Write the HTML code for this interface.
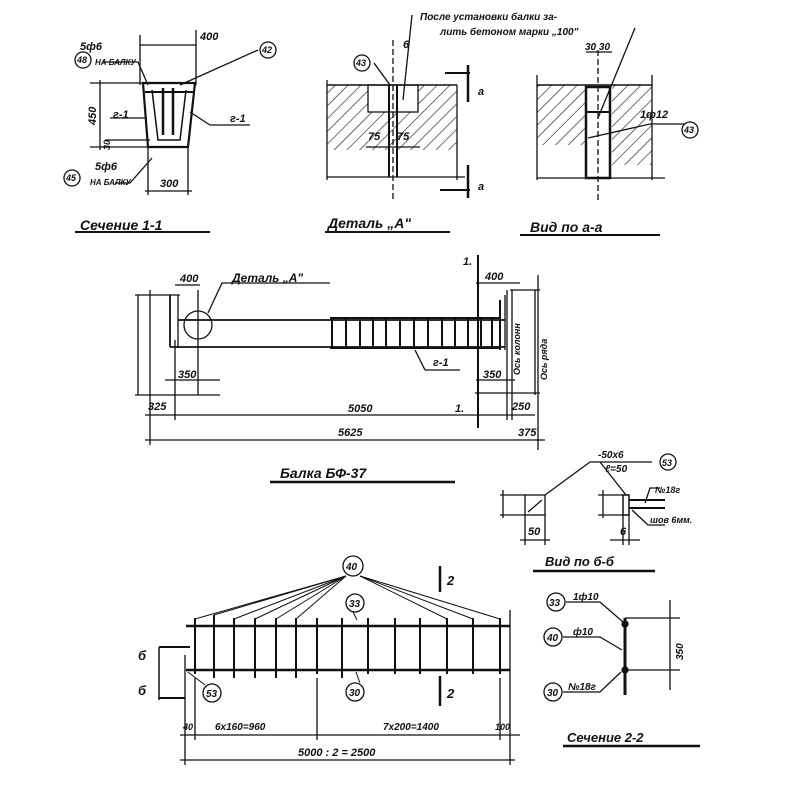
<!DOCTYPE html>
<html><head><meta charset="utf-8"><style>
html,body{margin:0;padding:0;background:#fff;width:800px;height:800px;overflow:hidden}
text{font-family:"Liberation Sans",sans-serif;font-style:italic;font-weight:bold;fill:#111}
</style></head><body>
<svg width="800" height="800" viewBox="0 0 800 800" xmlns="http://www.w3.org/2000/svg">
<defs>
<pattern id="h" width="9" height="9" patternUnits="userSpaceOnUse" patternTransform="rotate(45)">
<line x1="0" y1="0" x2="0" y2="9" stroke="#222" stroke-width="1.3"/></pattern>
</defs>
<g stroke="#111" fill="none" stroke-width="1.3">
<!-- Section 1-1 -->
<path d="M143 83 L195 83 L188 147 L148 147 Z" stroke-width="2.2"/>
<line x1="145" y1="92" x2="193" y2="92" stroke-width="2"/>
<path d="M152 90 L158 140 L180 140 L186 90" stroke-width="1.5"/>
<line x1="163" y1="88" x2="163" y2="135" stroke-width="2.5"/>
<line x1="173" y1="88" x2="173" y2="135" stroke-width="2.5"/>
<line x1="140" y1="45" x2="196" y2="45"/><line x1="140" y1="35" x2="140" y2="85"/><line x1="196" y1="30" x2="196" y2="85"/>
<line x1="90" y1="83" x2="145" y2="83"/><line x1="90" y1="147" x2="148" y2="147"/><line x1="100" y1="80" x2="100" y2="150"/>
<line x1="148" y1="147" x2="148" y2="195"/><line x1="188" y1="147" x2="188" y2="195"/><line x1="145" y1="191" x2="192" y2="191"/>
<line x1="105" y1="140" x2="150" y2="140"/>
<path d="M103 62 L138 62 L148 85"/><path d="M115 183 L130 183 L152 158"/>
<path d="M258 50 L180 85"/><path d="M110 118 L145 118"/><path d="M190 112 L210 125 L250 125"/>
<circle cx="83" cy="60" r="8"/><circle cx="268" cy="50" r="8"/><circle cx="72" cy="178" r="8"/>
<line x1="75" y1="232" x2="210" y2="232" stroke-width="2"/>
<!-- Detail A -->
<rect x="327" y="85" width="130" height="65" fill="url(#h)" stroke="none"/>
<rect x="368" y="85" width="50" height="27" fill="#fff"/>
<line x1="327" y1="85" x2="457" y2="85" stroke-width="1.5"/>
<line x1="327" y1="80" x2="327" y2="180"/><line x1="457" y1="85" x2="457" y2="180"/>
<line x1="327" y1="177" x2="465" y2="177"/>
<line x1="389" y1="85" x2="389" y2="177" stroke-width="2"/><line x1="397" y1="85" x2="397" y2="177" stroke-width="2"/>
<line x1="393" y1="40" x2="393" y2="200" stroke-dasharray="6 3"/>
<line x1="366" y1="147" x2="420" y2="147"/>
<path d="M374 63 L390 85"/><path d="M412 15 L403 100"/>
<circle cx="362" cy="63" r="8"/>
<line x1="468" y1="65" x2="468" y2="102" stroke-width="2.5"/><line x1="445" y1="73" x2="470" y2="73" stroke-width="2"/>
<line x1="468" y1="165" x2="468" y2="198" stroke-width="2.5"/><line x1="440" y1="190" x2="470" y2="190" stroke-width="2"/>
<line x1="325" y1="232" x2="450" y2="232" stroke-width="2"/>
<!-- View a-a -->
<rect x="537" y="85" width="50" height="60" fill="url(#h)" stroke="none"/>
<rect x="612" y="85" width="40" height="80" fill="url(#h)" stroke="none"/>
<line x1="537" y1="85" x2="652" y2="85" stroke-width="1.5"/>
<line x1="537" y1="178" x2="665" y2="178"/><line x1="537" y1="75" x2="537" y2="180"/><line x1="652" y1="75" x2="652" y2="180"/>
<rect x="586" y="87" width="24" height="91" stroke-width="2.5"/>
<line x1="586" y1="112" x2="610" y2="112" stroke-width="2"/>
<line x1="598" y1="50" x2="598" y2="200" stroke-dasharray="6 3"/>
<path d="M598 118 L635 28"/><path d="M588 138 L650 124 L685 124"/>
<line x1="586" y1="52" x2="612" y2="52"/>
<circle cx="690" cy="130" r="8"/>
<line x1="520" y1="235" x2="660" y2="235" stroke-width="2"/>
<!-- Beam -->
<line x1="178" y1="320" x2="505" y2="320" stroke-width="1.8"/>
<line x1="170" y1="347" x2="505" y2="347" stroke-width="1.8"/>
<line x1="170" y1="295" x2="170" y2="347" stroke-width="1.8"/>
<line x1="178" y1="295" x2="178" y2="347"/>
<line x1="330" y1="318" x2="500" y2="318" stroke-width="2"/><line x1="330" y1="348" x2="500" y2="348" stroke-width="2"/>
<line x1="500" y1="300" x2="500" y2="350" stroke-width="2"/><line x1="505" y1="295" x2="505" y2="350"/>
<g stroke-width="2">
<line x1="332" y1="318" x2="332" y2="348"/><line x1="346" y1="318" x2="346" y2="348"/><line x1="360" y1="318" x2="360" y2="348"/><line x1="373" y1="318" x2="373" y2="348"/><line x1="386" y1="318" x2="386" y2="348"/><line x1="400" y1="318" x2="400" y2="348"/><line x1="414" y1="318" x2="414" y2="348"/><line x1="428" y1="318" x2="428" y2="348"/><line x1="442" y1="318" x2="442" y2="348"/><line x1="455" y1="318" x2="455" y2="348"/><line x1="468" y1="318" x2="468" y2="348"/><line x1="481" y1="318" x2="481" y2="348"/><line x1="492" y1="318" x2="492" y2="348"/>
</g>
<circle cx="198" cy="325" r="14"/>
<path d="M208 313 L222 283 L330 283"/>
<line x1="198" y1="290" x2="198" y2="395"/>
<line x1="175" y1="285" x2="200" y2="285"/><line x1="165" y1="380" x2="220" y2="380"/>
<line x1="135" y1="295" x2="180" y2="295"/><line x1="135" y1="395" x2="220" y2="395"/>
<line x1="138" y1="295" x2="138" y2="395"/>
<line x1="150" y1="290" x2="150" y2="445"/><line x1="175" y1="340" x2="175" y2="420"/>
<line x1="415" y1="350" x2="425" y2="370" /><line x1="425" y1="370" x2="460" y2="370"/>
<line x1="478" y1="255" x2="478" y2="428" stroke-width="2"/>
<line x1="476" y1="283" x2="520" y2="283"/><line x1="476" y1="380" x2="515" y2="380"/>
<line x1="475" y1="393" x2="540" y2="393"/>
<line x1="507" y1="290" x2="507" y2="420"/><line x1="512" y1="290" x2="512" y2="420"/>
<line x1="535" y1="290" x2="535" y2="395"/><line x1="538" y1="275" x2="538" y2="450"/>
<line x1="510" y1="290" x2="540" y2="290"/>
<line x1="145" y1="415" x2="535" y2="415"/><line x1="145" y1="440" x2="545" y2="440"/>
<line x1="270" y1="482" x2="455" y2="482" stroke-width="2.5"/>
<!-- view б-б -->
<rect x="525" y="495" width="20" height="20"/>
<line x1="528" y1="512" x2="542" y2="500"/>
<line x1="500" y1="495" x2="525" y2="495"/><line x1="500" y1="515" x2="525" y2="515"/><line x1="503" y1="490" x2="503" y2="518"/>
<line x1="525" y1="515" x2="525" y2="545"/><line x1="545" y1="515" x2="545" y2="545"/><line x1="520" y1="540" x2="550" y2="540"/>
<path d="M545 495 L590 462 L652 462"/>
<rect x="623" y="495" width="6" height="20" stroke-width="1.5"/>
<line x1="629" y1="500" x2="665" y2="500" stroke-width="2"/><line x1="629" y1="508" x2="665" y2="508" stroke-width="2"/>
<path d="M600 462 L626 495"/><path d="M632 510 L648 525 L665 525"/><path d="M645 503 L650 488 L660 488"/>
<line x1="598" y1="495" x2="623" y2="495"/><line x1="598" y1="515" x2="623" y2="515"/><line x1="603" y1="490" x2="603" y2="518"/>
<line x1="623" y1="515" x2="623" y2="545"/><line x1="629" y1="515" x2="629" y2="545"/><line x1="610" y1="540" x2="640" y2="540"/>
<circle cx="668" cy="462" r="8"/>
<line x1="533" y1="571" x2="655" y2="571" stroke-width="2.5"/>
<!-- Bottom cage -->
<line x1="186" y1="626" x2="510" y2="626" stroke-width="2.5"/>
<line x1="186" y1="670" x2="510" y2="670" stroke-width="2.5"/>
<g stroke-width="2">
<line x1="195" y1="618" x2="195" y2="674"/><line x1="214" y1="615" x2="214" y2="678"/><line x1="234" y1="618" x2="234" y2="678"/><line x1="255" y1="618" x2="255" y2="678"/><line x1="276" y1="618" x2="276" y2="678"/><line x1="296" y1="618" x2="296" y2="678"/><line x1="317" y1="618" x2="317" y2="674"/><line x1="342" y1="618" x2="342" y2="678"/><line x1="368" y1="618" x2="368" y2="674"/><line x1="395" y1="618" x2="395" y2="674"/><line x1="420" y1="618" x2="420" y2="674"/><line x1="447" y1="618" x2="447" y2="674"/><line x1="473" y1="618" x2="473" y2="674"/><line x1="500" y1="618" x2="500" y2="674"/>
</g>
<g stroke-width="1">
<line x1="346" y1="576" x2="195" y2="619"/><line x1="346" y1="576" x2="214" y2="615"/><line x1="346" y1="576" x2="234" y2="619"/><line x1="346" y1="576" x2="255" y2="619"/><line x1="346" y1="576" x2="276" y2="619"/><line x1="346" y1="576" x2="296" y2="619"/>
<line x1="360" y1="576" x2="447" y2="619"/><line x1="360" y1="576" x2="473" y2="619"/><line x1="360" y1="576" x2="500" y2="619"/>
<path d="M357 620 L353 612"/><path d="M356 672 L360 683"/><path d="M188 672 L205 685"/>
</g>
<circle cx="353" cy="566" r="10"/><circle cx="355" cy="603" r="9"/><circle cx="355" cy="692" r="9"/><circle cx="212" cy="693" r="9"/>
<line x1="440" y1="566" x2="440" y2="592" stroke-width="2.5"/><line x1="440" y1="676" x2="440" y2="706" stroke-width="2.5"/>
<line x1="159" y1="647" x2="159" y2="700" stroke-width="1.5"/>
<line x1="159" y1="647" x2="190" y2="647" stroke-width="2"/><line x1="159" y1="698" x2="185" y2="698" stroke-width="2"/>
<line x1="185" y1="655" x2="185" y2="765"/><line x1="195" y1="678" x2="195" y2="740"/>
<line x1="317" y1="678" x2="317" y2="740"/><line x1="510" y1="610" x2="510" y2="765"/><line x1="500" y1="678" x2="500" y2="740"/>
<line x1="180" y1="735" x2="520" y2="735"/><line x1="180" y1="760" x2="515" y2="760"/>
<!-- section 2-2 -->
<line x1="625" y1="618" x2="625" y2="695" stroke-width="3"/>
<line x1="625" y1="618" x2="680" y2="618"/><line x1="625" y1="670" x2="680" y2="670"/><line x1="670" y1="600" x2="670" y2="690"/>
<circle cx="625" cy="624" r="3" fill="#111"/><circle cx="625" cy="670" r="3" fill="#111"/>
<path d="M566 602 L600 602 L623 622"/><path d="M563 637 L600 637 L622 650"/><path d="M563 692 L600 692 L621 672"/>
<circle cx="556" cy="602" r="9"/><circle cx="553" cy="637" r="9"/><circle cx="553" cy="692" r="9"/>
<line x1="563" y1="746" x2="700" y2="746" stroke-width="2.5"/>
</g>
<g font-size="11">
<text x="200" y="40">400</text><text x="80" y="50">5ф6</text><text x="95" y="65" font-size="8">НА БАЛКУ</text>
<text x="77" y="63" font-size="9">48</text><text x="262" y="53" font-size="9">42</text><text x="66" y="181" font-size="9">45</text>
<text x="95" y="170">5ф6</text><text x="90" y="185" font-size="8">НА БАЛКУ</text>
<text x="160" y="187">300</text><text x="113" y="118">г-1</text><text x="230" y="122">г-1</text>
<text transform="translate(96,125) rotate(-90)">450</text><text transform="translate(110,150) rotate(-90)" font-size="9">30</text>
<text x="80" y="230" font-size="14">Сечение 1-1</text>
<text x="420" y="20" font-size="10">После установки балки за-</text>
<text x="440" y="35" font-size="10">лить бетоном марки „100"</text>
<text x="356" y="66" font-size="9">43</text><text x="403" y="48">6</text>
<text x="368" y="140">75</text><text x="397" y="140">75</text>
<text x="478" y="95">а</text><text x="478" y="190">а</text>
<text x="328" y="228" font-size="14">Деталь „А"</text>
<text x="585" y="50" font-size="10">30 30</text><text x="640" y="118">1ф12</text><text x="684" y="133" font-size="9">43</text>
<text x="530" y="232" font-size="14">Вид по а-а</text>
<text x="180" y="282">400</text><text x="232" y="282" font-size="12">Деталь „А"</text>
<text x="485" y="280">400</text><text x="463" y="265">1.</text>
<text x="433" y="366">г-1</text><text x="178" y="378">350</text><text x="483" y="378">350</text>
<text x="148" y="410">325</text><text x="348" y="412">5050</text><text x="455" y="412">1.</text><text x="512" y="410">250</text>
<text x="338" y="436">5625</text><text x="518" y="436">375</text>
<text transform="translate(520,375) rotate(-90)" font-size="9">Ось колонн</text>
<text transform="translate(547,380) rotate(-90)" font-size="9">Ось ряда</text>
<text x="280" y="478" font-size="14">Балка БФ-37</text>
<text x="598" y="458" font-size="10">-50х6</text><text x="605" y="472" font-size="10">ℓ=50</text><text x="662" y="466" font-size="9">53</text>
<text x="655" y="493" font-size="9">№18г</text><text x="650" y="523" font-size="9">шов 6мм.</text>
<text x="528" y="535">50</text><text x="620" y="535">6</text>
<text x="545" y="566" font-size="13">Вид по б-б</text>
<text x="346" y="570" font-size="10">40</text><text x="349" y="607" font-size="10">33</text><text x="349" y="696" font-size="10">30</text><text x="206" y="697" font-size="10">53</text>
<text x="447" y="585" font-size="13">2</text><text x="447" y="698" font-size="13">2</text>
<text x="138" y="660" font-size="13">б</text><text x="138" y="695" font-size="13">б</text>
<text x="183" y="730" font-size="9">40</text><text x="215" y="730" font-size="10">6х160=960</text><text x="383" y="730" font-size="10">7х200=1400</text><text x="495" y="730" font-size="9">100</text>
<text x="298" y="756" font-size="11">5000 : 2 = 2500</text>
<text x="549" y="606" font-size="10">33</text><text x="547" y="641" font-size="10">40</text><text x="547" y="696" font-size="10">30</text>
<text x="573" y="600" font-size="10">1ф10</text><text x="573" y="635" font-size="10">ф10</text><text x="568" y="690" font-size="10">№18г</text>
<text transform="translate(683,660) rotate(-90)" font-size="10">350</text>
<text x="567" y="742" font-size="13">Сечение 2-2</text>
</g>
</svg>
</body></html>
